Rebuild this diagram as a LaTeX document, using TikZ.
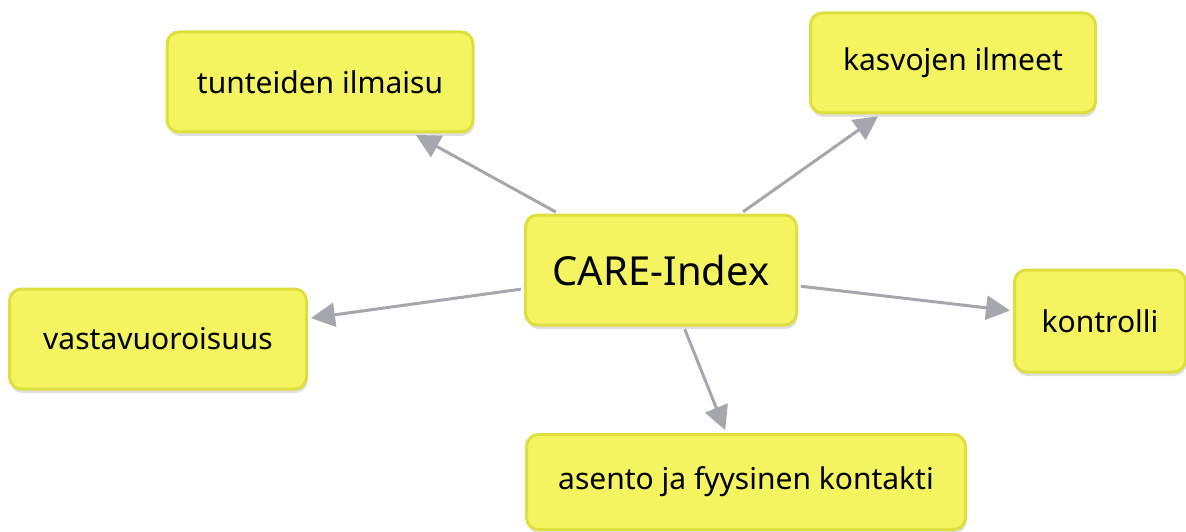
\documentclass[tikz,border=0pt]{standalone}
\usepackage{fontspec}
\setmainfont{Noto Sans}
\usetikzlibrary{arrows.meta,shadows}
\definecolor{boxfill}{RGB}{244,244,96}
\definecolor{boxline}{RGB}{222,222,62}
\definecolor{linkgray}{RGB}{166,166,174}
\tikzset{
  topic/.style={draw=boxline, line width=3pt, fill=boxfill, rounded corners=12pt,
    drop shadow={shadow xshift=1pt, shadow yshift=-4pt, opacity=0.25, fill=gray},
    font=\fontsize{30}{36}\selectfont, inner sep=0pt},
  link/.style={draw=linkgray, line width=3pt, -{Triangle[length=24pt,width=24pt]}, shorten >=3pt, shorten <=3pt}
}
\begin{document}
\begin{tikzpicture}[x=1pt, y=-1pt]
  \useasboundingbox (0,0) rectangle (1186,532);
  \node[topic, minimum width=271pt, minimum height=110pt,
        font=\fontsize{40}{48}\selectfont] (care) at (661,270) {CARE-Index};
  \node[topic, minimum width=306pt, minimum height=100pt] (tunteet) at (320,82) {tunteiden ilmaisu};
  \node[topic, minimum width=285pt, minimum height=100pt] (ilmeet) at (953,63) {kasvojen ilmeet};
  \node[topic, minimum width=297pt, minimum height=100pt] (vuoro) at (158,339) {vastavuoroisuus};
  \node[topic, minimum width=171pt, minimum height=102pt] (kontrolli) at (1100,321) {kontrolli};
  \node[topic, minimum width=439pt, minimum height=95pt] (asento) at (746,482) {asento ja fyysinen kontakti};

  \draw[link] (care) -- (tunteet);
  \draw[link] (care) -- (ilmeet);
  \draw[link] (care) -- (vuoro);
  \draw[link] (care) -- (kontrolli);
  \draw[link] (care) -- (asento);
\end{tikzpicture}
\end{document}
